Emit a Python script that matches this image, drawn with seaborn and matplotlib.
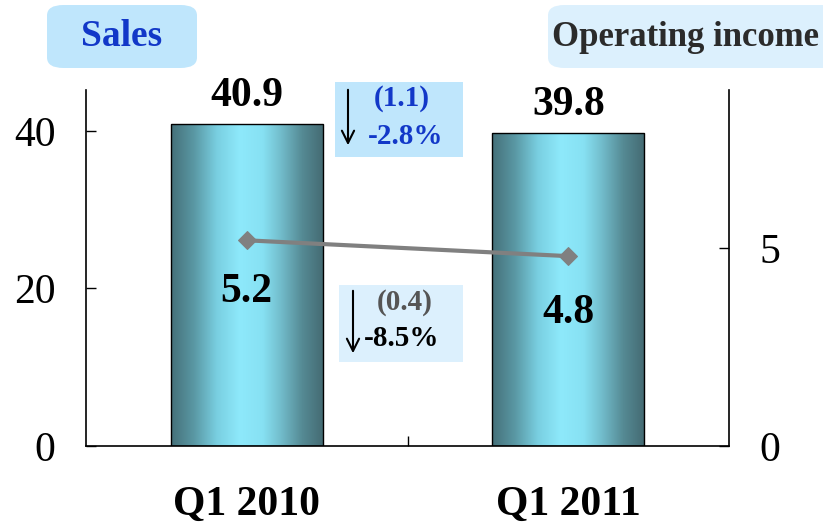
import numpy as np
import pandas as pd
import matplotlib
matplotlib.use('Agg')
import matplotlib.pyplot as plt
import seaborn as sns
from matplotlib.colors import LinearSegmentedColormap
from matplotlib.patches import FancyBboxPatch, Rectangle

# ========================
# DATA
# ========================
periods = ['Q1 2010', 'Q1 2011']
sales = [40.9, 39.8]
op_income = [5.2, 4.8]
sales_change = ['(1.1)', '-2.8%']
income_change = ['(0.4)', '-8.5%']

# ========================
# STYLE
# ========================
sns.set_style('ticks')
plt.rcParams['font.family'] = ['Liberation Serif', 'DejaVu Serif']
plt.rcParams['axes.linewidth'] = 1.2
plt.rcParams['text.color'] = 'black'
plt.rcParams['axes.edgecolor'] = 'black'
plt.rcParams['xtick.color'] = 'black'
plt.rcParams['ytick.color'] = 'black'

fig = plt.figure(figsize=(8.23, 5.27), dpi=100)
ax = fig.add_axes([86 / 823, 81 / 527, 643 / 823, 356 / 527])

df = pd.DataFrame({'period': periods, 'sales': sales})
sns.barplot(data=df, x='period', y='sales', ax=ax, width=0.473,
            color='#8ee8fa', edgecolor='black', linewidth=1.0)

# gradient fill for the bars (dark edges, bright centre)
grad = LinearSegmentedColormap.from_list('cyl', [
    (0.00, '#457079'), (0.15, '#5a98a4'), (0.30, '#79cfe1'),
    (0.45, '#8ee9fb'), (0.60, '#87e1f3'), (0.72, '#72bccb'),
    (0.86, '#558a94'), (1.00, '#446a72')])
g = np.linspace(0, 1, 256).reshape(1, -1)
for p in ax.patches:
    x0, w, h = p.get_x(), p.get_width(), p.get_height()
    p.set_facecolor('none')
    p.set_zorder(3)
    im = ax.imshow(g, cmap=grad, extent=[x0, x0 + w, 0, h], aspect='auto',
                   zorder=2, interpolation='bicubic')
    im.set_clip_path(p)

ax.set_xlim(-0.5, 1.5)
ax.set_ylim(0, 45.2)
ax.set_xlabel('')
ax.set_ylabel('')
ax.set_yticks([0, 20, 40])
ax.set_xticks([0, 1])
ax.set_xticklabels(periods, fontsize=30, fontweight='bold')
ax.set_xticks([0.5], minor=True)
ax.tick_params(axis='x', which='major', length=0, pad=29)
ax.tick_params(axis='x', which='minor', direction='in', length=7, width=1)
ax.tick_params(axis='y', direction='in', length=7, width=1, labelsize=30, pad=22)
for s in ['top', 'right']:
    ax.spines[s].set_visible(False)

for i, v in enumerate(sales):
    ax.annotate(f'{v}', (i, v), xytext=(0, 20), textcoords='offset points',
                ha='center', va='center', fontsize=30, fontweight='bold')

# ========================
# OPERATING INCOME LINE
# ========================
ax2 = ax.twinx()
sns.lineplot(x=[0, 1], y=op_income, ax=ax2, color='#808080', linewidth=3,
             marker='D', markersize=9, markeredgecolor='#808080')
ax2.set_ylim(0, 9)
ax2.set_yticks([0, 5])
ax2.set_ylabel('')
ax2.tick_params(axis='y', direction='in', length=7, width=1, labelsize=30, pad=22)
for s in ['top', 'left', 'bottom']:
    ax2.spines[s].set_visible(False)
ax2.set_xlim(-0.5, 1.5)

label_offsets = [-37, -41]
for i, v in enumerate(op_income):
    ax2.annotate(f'{v}', (i, v), xytext=(0, label_offsets[i]),
                 textcoords='offset points', ha='center', va='center',
                 fontsize=30, fontweight='bold')

# ========================
# HEADER BOXES
# ========================
def px(x, y):
    return x / 823, 1 - y / 527

fig.patches.append(FancyBboxPatch(px(47, 68), 150 / 823, 63 / 527,
                                  boxstyle='round,pad=0,rounding_size=0.02',
                                  transform=fig.transFigure, fc='#bfe6fc', ec='none'))
fig.text(*px(122, 37), 'Sales', ha='center', va='center', fontsize=27,
         fontweight='bold', color='#1238c8')

fig.patches.append(FancyBboxPatch(px(548, 68), 290 / 823, 63 / 527,
                                  boxstyle='round,pad=0,rounding_size=0.02',
                                  transform=fig.transFigure, fc='#dcf0fd', ec='none'))
fig.text(*px(686, 38), 'Operating income', ha='center', va='center', fontsize=25,
         fontweight='bold', color='#2b2b2b')

# ========================
# CHANGE BOXES
# ========================
fig.patches.append(Rectangle(px(335, 157), 128 / 823, 75 / 527,
                             transform=fig.transFigure, fc='#bfe6fc', ec='none'))
fig.text(*px(402, 98), sales_change[0], ha='center', va='center', fontsize=21,
         fontweight='bold', color='#1238c8')
fig.text(*px(406, 137), sales_change[1], ha='center', va='center', fontsize=21,
         fontweight='bold', color='#1238c8')
fig.add_artist(plt.Annotation('', xy=px(348, 148), xytext=px(348, 87),
                              xycoords='figure fraction',
                              arrowprops=dict(arrowstyle='->', lw=1.5, color='black',
                                              mutation_scale=22)))

fig.patches.append(Rectangle(px(339, 362), 124 / 823, 77 / 527,
                             transform=fig.transFigure, fc='#dcf0fd', ec='none'))
fig.text(*px(405, 302), income_change[0], ha='center', va='center', fontsize=21,
         fontweight='bold', color='#555555')
fig.text(*px(402, 338), income_change[1], ha='center', va='center', fontsize=21,
         fontweight='bold', color='black')
fig.add_artist(plt.Annotation('', xy=px(353, 356), xytext=px(353, 288),
                              xycoords='figure fraction',
                              arrowprops=dict(arrowstyle='->', lw=1.5, color='black',
                                              mutation_scale=22)))

plt.savefig('out.png', dpi=100)
plt.close()
